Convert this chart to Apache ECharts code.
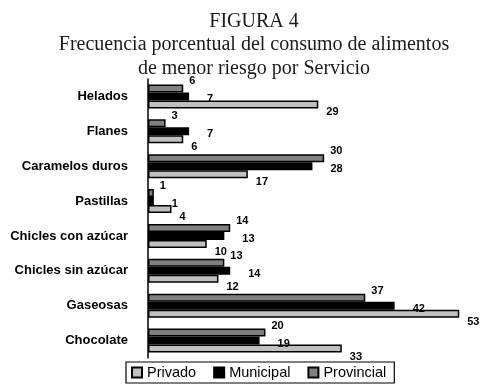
<!DOCTYPE html>
<html>
<head>
<meta charset="utf-8">
<script src="https://cdn.jsdelivr.net/npm/echarts@6/dist/echarts.min.js"></script>
<style>
  html, body { margin: 0; padding: 0; background: #fff; }
  #chart { width: 482px; height: 387px; }
</style>
</head>
<body>
<div id="chart"></div>
<script>
// datos
const categorias = ['Helados', 'Flanes', 'Caramelos duros', 'Pastillas',
  'Chicles con azúcar', 'Chicles sin azúcar', 'Gaseosas', 'Chocolate'];
const provincial = [6, 3, 30, 1, 14, 13, 37, 20];
const municipal = [7, 7, 28, 1, 13, 14, 42, 19];
const privado = [29, 6, 17, 4, 10, 12, 53, 33];

const chart = echarts.init(document.getElementById('chart'), null, { renderer: 'canvas' });

const labelBase = { show: true, position: 'right', color: '#000', fontSize: 11, fontWeight: 'bold', fontFamily: 'Liberation Sans, Arial' };
const borde = { borderColor: '#000', borderWidth: 1.5 };

const option = {
  backgroundColor: '#ffffff',
  animation: false,
  title: {
    text: 'FIGURA 4',
    subtext: 'Frecuencia porcentual del consumo de alimentos\nde menor riesgo por Servicio',
    left: 249, top: 7, textAlign: 'center', itemGap: 1,
    textStyle: { fontFamily: 'Liberation Serif', fontWeight: 'normal', fontSize: 20, color: '#1a1a1a' },
    subtextStyle: { fontFamily: 'Liberation Serif', fontSize: 20, color: '#1a1a1a', lineHeight: 24 }
  },
  legend: {
    data: ['Privado', 'Municipal', 'Provincial'],
    left: 126, top: 362, padding: [3, 8, 3, 5],
    borderColor: '#000', borderWidth: 1.2,
    itemWidth: 10, itemHeight: 10, itemGap: 17,
    icon: 'rect',
    textStyle: { fontFamily: 'Liberation Sans, Arial', fontSize: 14.5, color: '#000' }
  },
  grid: { left: 148, top: 79, right: 11, bottom: 29 },
  xAxis: { type: 'value', min: 0, max: 55, show: false },
  yAxis: {
    type: 'category', data: categorias, inverse: true,
    axisLine: { lineStyle: { color: '#000', width: 1.5 } },
    axisTick: { length: 4, lineStyle: { color: '#000', width: 1.5 } },
    axisLabel: { color: '#000', fontSize: 13, fontWeight: 'bold', fontFamily: 'Liberation Sans, Arial', margin: 20 }
  },
  series: [
    { name: 'Provincial', type: 'bar', data: provincial, barWidth: 8, barGap: '0%',
      itemStyle: Object.assign({ color: '#808080' }, borde),
      label: Object.assign({ offset: [1, -7] }, labelBase) },
    { name: 'Municipal', type: 'bar', data: municipal, barWidth: 8, barGap: '0%',
      itemStyle: Object.assign({ color: '#000' }, borde),
      label: Object.assign({ offset: [13, 3] }, labelBase) },
    { name: 'Privado', type: 'bar', data: privado, barWidth: 8, barGap: '0%',
      itemStyle: Object.assign({ color: '#c0c0c0' }, borde),
      label: Object.assign({ offset: [3, 8] }, labelBase) }
  ]
};

chart.setOption(option);
</script>
</body>
</html>
